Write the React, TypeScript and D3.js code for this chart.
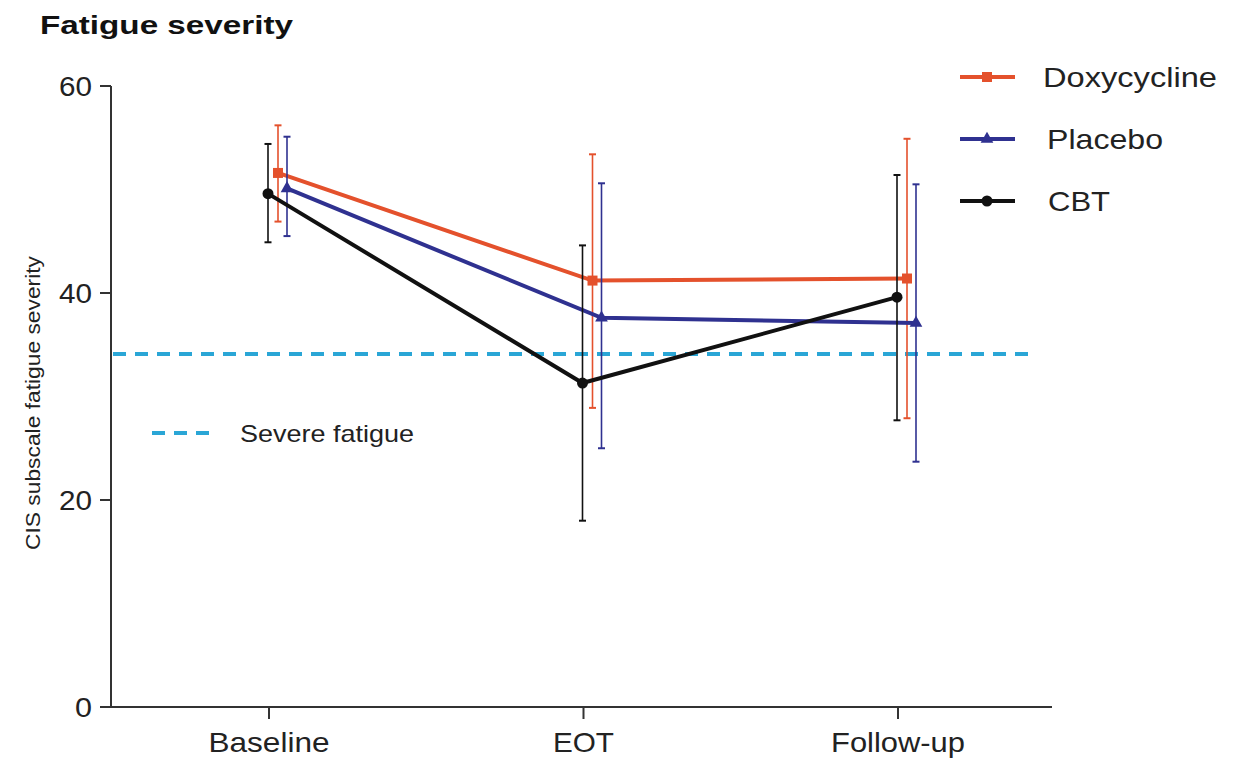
import React from "react";
import * as d3 from "d3";

const timepoints = ["Baseline", "EOT", "Follow-up"];
const seriesNames = ["Doxycycline", "Placebo", "CBT"];
const doxyMean = [51.6, 41.2, 41.4];
const doxyLow = [46.9, 28.9, 27.9];
const doxyHigh = [56.2, 53.4, 54.9];
const placeboMean = [50.1, 37.6, 37.1];
const placeboLow = [45.5, 25.0, 23.7];
const placeboHigh = [55.1, 50.6, 50.5];
const cbtMean = [49.6, 31.3, 39.6];
const cbtLow = [44.9, 18.0, 27.7];
const cbtHigh = [54.4, 44.6, 51.4];
const yTicks = [0, 20, 40, 60];
const severeFatigue = 34.1;

const W = 1243;
const H = 758;

const series = [
  { name: seriesNames[0], mean: doxyMean, low: doxyLow, high: doxyHigh, color: "#e4512c", marker: "square", offset: 9 },
  { name: seriesNames[1], mean: placeboMean, low: placeboLow, high: placeboHigh, color: "#2f3190", marker: "triangle", offset: 18 },
  { name: seriesNames[2], mean: cbtMean, low: cbtLow, high: cbtHigh, color: "#111111", marker: "circle", offset: -1 },
];

function Marker({ type, x, y, color }: { type: string; x: number; y: number; color: string }) {
  if (type === "square") return <rect x={x - 5} y={y - 5} width={10} height={10} fill={color} />;
  if (type === "triangle") {
    const p = d3.symbol().type(d3.symbolTriangle).size(70)();
    return <path d={p || ""} transform={`translate(${x},${y})`} fill={color} />;
  }
  return <circle cx={x} cy={y} r={5.5} fill={color} />;
}

export default function App() {
  const y = d3.scaleLinear().domain([0, 60]).range([707, 86]);
  const x = d3.scalePoint().domain(timepoints).range([269, 898]);
  const font = "Liberation Sans, Arial, sans-serif";
  const xLabelWidths = [121, 61, 134];
  const legendWidths = [174, 116, 62];
  const legendX = [1043, 1047, 1048];
  const legendY = [77, 139, 201];

  return (
    <svg width={W} height={H} style={{ position: "absolute", left: 0, top: 0, background: "#fff" }} fontFamily={font}>
      <text x={40} y={34} fontSize={26} fontWeight="bold" fill="#111" textLength={253} lengthAdjust="spacingAndGlyphs">Fatigue severity</text>

      {/* y axis */}
      <line x1={111} x2={111} y1={y(60)} y2={y(0)} stroke="#333" strokeWidth={2} />
      {yTicks.map((t) => (
        <g key={t}>
          <line x1={100} x2={111} y1={y(t)} y2={y(t)} stroke="#333" strokeWidth={2} />
          <text x={92} y={y(t) + 10} fontSize={27} textAnchor="end" fill="#222" textLength={t === 0 ? 17 : 33} lengthAdjust="spacingAndGlyphs">{t}</text>
        </g>
      ))}
      <text transform={`translate(40,403) rotate(-90)`} fontSize={20} textAnchor="middle" fill="#222" textLength={294} lengthAdjust="spacingAndGlyphs">CIS subscale fatigue severity</text>

      {/* x axis */}
      <line x1={110} x2={1052} y1={y(0)} y2={y(0)} stroke="#333" strokeWidth={2} />
      {timepoints.map((c, i) => (
        <g key={c}>
          <line x1={x(c)} x2={x(c)} y1={y(0)} y2={y(0) + 12} stroke="#333" strokeWidth={2} />
          <text x={x(c)} y={752} fontSize={28} textAnchor="middle" fill="#222" textLength={xLabelWidths[i]} lengthAdjust="spacingAndGlyphs">{c}</text>
        </g>
      ))}

      {/* severe fatigue line */}
      <line x1={113} x2={1030} y1={y(severeFatigue)} y2={y(severeFatigue)} stroke="#2aa6d6" strokeWidth={4} strokeDasharray="13 9" />
      <line x1={152} x2={212} y1={433} y2={433} stroke="#2aa6d6" strokeWidth={4} strokeDasharray="13 9" />
      <text x={240} y={442} fontSize={24} fill="#222" textLength={174} lengthAdjust="spacingAndGlyphs">Severe fatigue</text>

      {/* series */}
      {series.map((s) => {
        const line = d3.line<number>().x((_, i) => (x(timepoints[i]) as number) + s.offset).y((d) => y(d));
        return (
          <g key={s.name}>
            {s.mean.map((m, i) => {
              const cx = (x(timepoints[i]) as number) + s.offset;
              return (
                <g key={i}>
                  <line x1={cx} x2={cx} y1={y(s.low[i])} y2={y(s.high[i])} stroke={s.color} strokeWidth={1.6} />
                  <line x1={cx - 3.5} x2={cx + 3.5} y1={y(s.low[i])} y2={y(s.low[i])} stroke={s.color} strokeWidth={2} />
                  <line x1={cx - 3.5} x2={cx + 3.5} y1={y(s.high[i])} y2={y(s.high[i])} stroke={s.color} strokeWidth={2} />
                </g>
              );
            })}
            <path d={line(s.mean) || ""} fill="none" stroke={s.color} strokeWidth={4} />
            {s.mean.map((m, i) => (
              <Marker key={i} type={s.marker} x={(x(timepoints[i]) as number) + s.offset} y={y(m)} color={s.color} />
            ))}
          </g>
        );
      })}

      {/* legend */}
      {series.map((s, i) => (
        <g key={s.name}>
          <line x1={960} x2={1015} y1={legendY[i]} y2={legendY[i]} stroke={s.color} strokeWidth={4} />
          <Marker type={s.marker} x={987} y={legendY[i]} color={s.color} />
          <text x={legendX[i]} y={legendY[i] + 10} fontSize={28} fill="#222" textLength={legendWidths[i]} lengthAdjust="spacingAndGlyphs">{s.name}</text>
        </g>
      ))}
    </svg>
  );
}
